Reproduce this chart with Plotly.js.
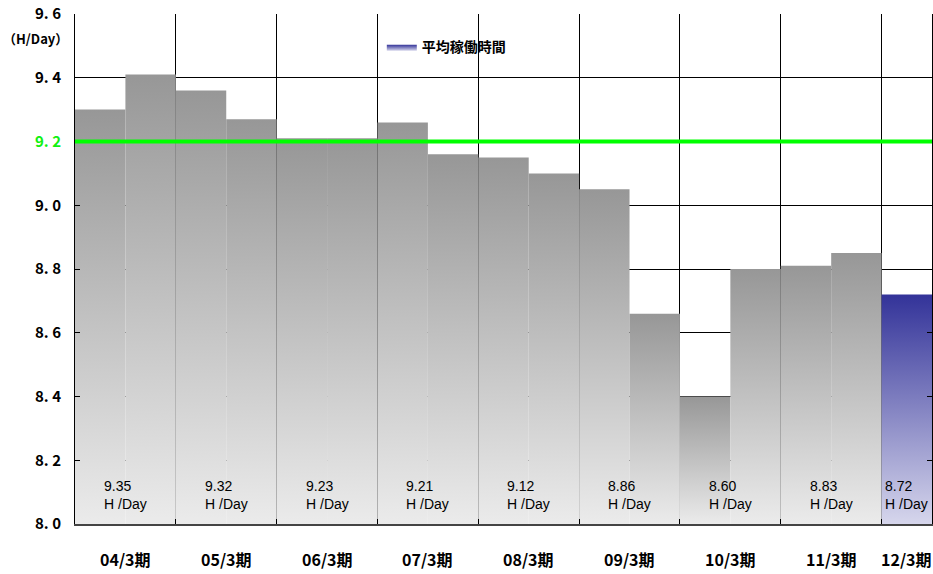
<!DOCTYPE html>
<html>
<head>
<meta charset="utf-8">
<script src="https://cdn.plot.ly/plotly-3.0.1.min.js"></script>
<style>
  html, body { margin: 0; padding: 0; background: #fff; }
  #chart { width: 933px; height: 574px; }
</style>
</head>
<body>
<div id="chart"></div>
<script>
// ---- data ----
const CATEGORIES = ['04/3期', '05/3期', '06/3期', '07/3期', '08/3期', '09/3期', '10/3期', '11/3期', '12/3期'];
// half-year average operating hours (two per fiscal year, last year only first half)
const HALF_VALUES = [9.30, 9.41, 9.36, 9.27, 9.21, 9.21, 9.26, 9.16, 9.15, 9.10, 9.05, 8.66, 8.40, 8.80, 8.81, 8.85, 8.72];
// yearly average labels shown at the bottom
const YEAR_AVG = [9.35, 9.32, 9.23, 9.21, 9.12, 8.86, 8.60, 8.83, 8.72];
const TARGET = 9.2;
const Y_TICKS = [8.0, 8.2, 8.4, 8.6, 8.8, 9.0, 9.2, 9.4, 9.6];
const SERIES_NAME = '平均稼働時間';
const UNIT_LABEL = '（H/Day）';

// ---- styles ----
const Y_MIN = 8.0, Y_MAX = 9.6;
const GRAY_TOP = '#979797', GRAY_BOTTOM = '#ebebeb';
const BLUE_TOP = '#333399', BLUE_BOTTOM = '#d6d6ec';
const GOTHIC = '"Noto Sans CJK JP", "Noto Sans", sans-serif';
const N = HALF_VALUES.length;

const traces = HALF_VALUES.map((v, k) => {
  const last = k === N - 1;
  return {
    type: 'scatter',
    mode: 'lines',
    x: [k, k, k + 1, k + 1, k],
    y: [Y_MIN, v, v, Y_MIN, Y_MIN],
    fill: 'toself',
    fillcolor: last ? BLUE_TOP : GRAY_TOP,
    fillgradient: {
      type: 'vertical',
      colorscale: last ? [[0, BLUE_BOTTOM], [1, BLUE_TOP]] : [[0, GRAY_BOTTOM], [1, GRAY_TOP]]
    },
    line: { width: 0, color: 'rgba(0,0,0,0)' },
    name: SERIES_NAME,
    showlegend: last,
    hoverinfo: 'text',
    text: v.toFixed(2)
  };
});

// centre of each fiscal year's visible span
const catCenter = i => (2 * i + 2 <= N ? 2 * i + 1 : (2 * i + N) / 2);

const annotations = [];
CATEGORIES.forEach((c, i) => {
  const cx = catCenter(i);
  annotations.push({
    x: cx, xref: 'x', y: 0, yref: 'paper', yshift: -35,
    text: c, showarrow: false, xanchor: 'center', yanchor: 'middle',
    font: { family: GOTHIC, size: 16, color: '#000', weight: 'bold' }
  });
  annotations.push({
    x: cx, xref: 'x', y: 0, yref: 'paper', yshift: 29,
    text: YEAR_AVG[i].toFixed(2) + '<br>H /Day', align: 'left',
    showarrow: false, xanchor: 'center', yanchor: 'middle',
    font: { family: 'Liberation Sans, Arial, sans-serif', size: 14, color: '#000' }
  });
});
annotations.push({
  x: 0, xref: 'paper', xshift: -40, y: 1, yref: 'paper', yshift: -24,
  text: UNIT_LABEL, showarrow: false, xanchor: 'center', yanchor: 'middle',
  font: { family: GOTHIC, size: 13, color: '#000', weight: 'bold' }
});

const layout = {
  width: 933, height: 574,
  margin: { l: 75, r: 1, t: 14, b: 50 },
  paper_bgcolor: '#fff', plot_bgcolor: '#fff',
  showlegend: true,
  legend: {
    x: 0.358, y: 0.935, xanchor: 'left', yanchor: 'middle',
    bgcolor: 'rgba(0,0,0,0)', itemwidth: 30,
    font: { family: GOTHIC, size: 14, color: '#000', weight: 'bold' }
  },
  xaxis: {
    range: [0, N],
    tickmode: 'array',
    tickvals: CATEGORIES.map((c, i) => 2 * i),
    showticklabels: false,
    ticks: 'inside', ticklen: 5, tickcolor: '#000',
    showgrid: true, gridcolor: '#000', gridwidth: 1,
    zeroline: false,
    showline: true, linecolor: '#444', linewidth: 2,
    fixedrange: true
  },
  yaxis: {
    range: [Y_MIN, Y_MAX],
    tickmode: 'array',
    tickvals: Y_TICKS,
    ticktext: Y_TICKS.map(v => {
      const s = v.toFixed(1).replace('.', '. ');
      return Math.abs(v - TARGET) < 1e-9 ? '<span style="color:#11f011">' + s + '</span>' : s;
    }),
    ticks: 'inside', ticklen: 5, tickcolor: '#000',
    ticklabelstandoff: 10,
    tickfont: { family: GOTHIC, size: 15, color: '#000', weight: 'bold' },
    showgrid: true, gridcolor: '#000', gridwidth: 1,
    zeroline: false,
    showline: true, linecolor: '#000', linewidth: 1,
    mirror: 'ticks',
    fixedrange: true
  },
  shapes: [{
    type: 'line', xref: 'paper', x0: 0, x1: 1, yref: 'y', y0: TARGET, y1: TARGET,
    line: { color: '#00ff00', width: 4 }, layer: 'above'
  }],
  annotations: annotations
};

Plotly.newPlot('chart', traces, layout, { displayModeBar: false, staticPlot: true });
</script>
</body>
</html>
